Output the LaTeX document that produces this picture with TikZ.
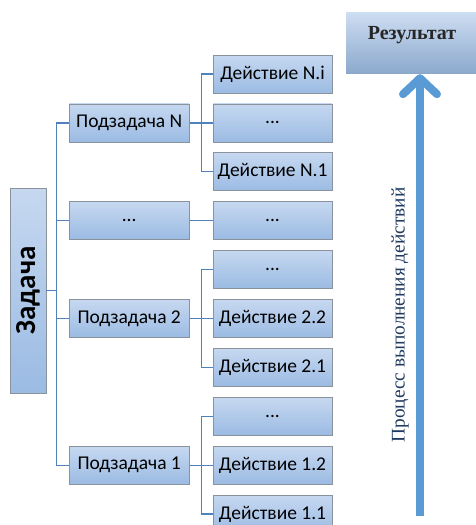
\documentclass[tikz,border=0pt]{standalone}
\usepackage{fontspec}
\setmainfont{Liberation Serif}
\newfontfamily\boxfont{Carlito}
\usetikzlibrary{positioning, arrows.meta}
\definecolor{boxtop}{HTML}{C6D8F0}
\definecolor{boxbot}{HTML}{9BBBE3}
\definecolor{boxline}{HTML}{8A929C}
\definecolor{linkblue}{HTML}{4F81BD}
\definecolor{arrowblue}{HTML}{5B9BD5}
\definecolor{navy}{HTML}{1F3A5F}

\begin{document}
\begin{tikzpicture}[node distance=10.1pt]
                    \tikzstyle{every node}=[font=\boxfont\fontsize{19.5}{22}\selectfont]
                    \tikzstyle{box}=[draw=boxline, line width=0.8pt, top color=boxtop, bottom color=boxbot, minimum height=38pt, inner sep=0pt]
                    \tikzstyle{subbox}=[box, minimum width=120pt]
                    \tikzstyle{actbox}=[box, minimum width=119pt]
                    \tikzstyle{link}=[draw=linkblue, line width=1.3pt]
                    \useasboundingbox (0,0) rectangle (476pt,-525pt);

                    % actions
                    \node (act N i)    [actbox] at (272.5pt,-74pt)          {Действие N.i};
                    \node (act N dots) [actbox, below=of act N i]           {...};
                    \node (act N 1)    [actbox, below=of act N dots]        {Действие N.1};
                    \node (act dots)   [actbox, below=of act N 1]           {...};
                    \node (act 2 dots) [actbox, below=of act dots]          {...};
                    \node (act 2 2)    [actbox, below=of act 2 dots]        {Действие 2.2};
                    \node (act 2 1)    [actbox, below=of act 2 2]           {Действие 2.1};
                    \node (act 1 dots) [actbox, below=of act 2 1]           {...};
                    \node (act 1 2)    [actbox, below=of act 1 dots]        {Действие 1.2};
                    \node (act 1 1)    [actbox, below=of act 1 2]           {Действие 1.1};

                    % subtasks
                    \node (sub N)      [subbox, left=23pt of act N dots]    {Подзадача N};
                    \node (sub dots)   [subbox, left=23pt of act dots]      {...};
                    \node (sub 2)      [subbox, left=23pt of act 2 2]       {Подзадача 2};
                    \node (sub 1)      [subbox, left=23pt of act 1 2]       {Подзадача 1};

                    \node (task)       [box, minimum width=36pt, minimum height=205pt] at (28pt,-290.5pt)
                                       {\rotatebox{90}{\fontsize{29}{31}\selectfont\bfseries Задача}};

                    % result and process arrow
                    \node (res)        [top color=boxtop!85!white, bottom color=boxbot!90!black, minimum width=132pt, minimum height=61pt,
                                        font=\fontsize{20}{22}\selectfont\bfseries, text=black!85, text depth=20pt] at (412pt,-42.5pt) {Результат};
                    \coordinate (arrow base) at (420pt,-516pt);
                    \node (proc)       [rotate=90, text=navy, font=\fontsize{19.3}{22}\selectfont] at (400pt,-315pt)
                                       {Процесс выполнения действий};

                    \draw [link] (sub N.west) -- ++(-12pt,0) coordinate (trunk) -- (trunk |- sub 1.west) -- (sub 1.west);
                    \draw [link] (task.east) -- (task.east -| trunk);
                    \draw [link] (sub dots.west) -- (sub dots.west -| trunk);
                    \draw [link] (sub 2.west) -- (sub 2.west -| trunk);

                    \draw [link] (sub N.east) -- (act N dots.west);
                    \draw [link] (act N i.west) -- ++(-11pt,0) |- (act N 1.west);
                    \draw [link] (sub dots.east) -- (act dots.west);
                    \draw [link] (sub 2.east) -- (act 2 2.west);
                    \draw [link] (act 2 dots.west) -- ++(-11pt,0) |- (act 2 1.west);
                    \draw [link] (sub 1.east) -- (act 1 2.west);
                    \draw [link] (act 1 dots.west) -- ++(-11pt,0) |- (act 1 1.west);

                    \draw [arrowblue, line width=8pt, -{Straight Barb[length=16pt, width=34pt, round]}, shorten >=1pt]
                          (arrow base) -- (arrow base |- res.south);
\end{tikzpicture}
\end{document}
